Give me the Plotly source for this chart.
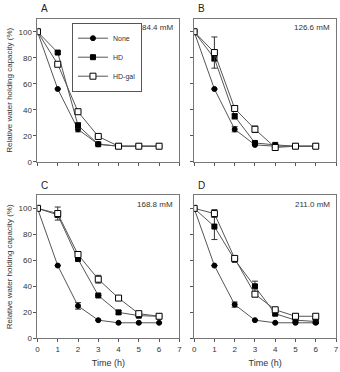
import plotly.graph_objects as go

times = [0, 1, 2, 3, 4, 5, 6]
series_names = ["None", "HD", "HD-gal"]
panel_letters = ["A", "B", "C", "D"]
concentrations = ["84.4 mM", "126.6 mM", "168.8 mM", "211.0 mM"]

none_A = [100, 56, 25, 13.5, 12, 12, 12]
none_A_err = [0, 0, 2, 0, 0, 0, 0]
hd_A = [100, 84, 28, 13.5, 12, 12, 12]
hd_A_err = [0, 1, 2, 0, 0, 0, 0]
gal_A = [100, 75, 38.5, 19.5, 12, 12, 12]
gal_A_err = [0, 1, 1, 0, 0, 0, 0]

none_B = [100, 56, 25, 13, 12, 12, 12]
none_B_err = [0, 0, 2, 0, 0, 0, 0]
hd_B = [100, 79.5, 35, 14.5, 13, 12, 12]
hd_B_err = [0, 2, 2, 1, 0, 0, 0]
gal_B = [100, 84, 41, 25, 11, 12, 12]
gal_B_err = [0, 12, 2, 2.5, 1, 0, 0]

none_C = [100, 56, 25, 14, 12, 12, 12]
none_C_err = [0, 0, 2.5, 0, 0, 0, 0]
hd_C = [100, 95, 61, 33, 20, 17.5, 17]
hd_C_err = [0, 2, 1, 0, 1.5, 0, 0]
gal_C = [100, 96, 64.5, 45.5, 31, 19, 17]
gal_C_err = [0, 5, 1.5, 3, 0, 0, 0]

none_D = [100, 56, 26, 14, 12, 12, 12]
none_D_err = [0, 0, 2, 0, 0, 0, 0]
hd_D = [100, 86, 60.5, 40, 19, 14, 13]
hd_D_err = [0, 10, 1, 4, 1, 2, 1.5]
gal_D = [100, 96, 61.5, 34, 22, 17, 17]
gal_D_err = [0, 3, 1, 2, 0, 2, 1.5]

y_ticks = [0, 20, 40, 60, 80, 100]
x_ticks = [0, 1, 2, 3, 4, 5, 6, 7]

panels = [
    [(none_A, none_A_err), (hd_A, hd_A_err), (gal_A, gal_A_err)],
    [(none_B, none_B_err), (hd_B, hd_B_err), (gal_B, gal_B_err)],
    [(none_C, none_C_err), (hd_C, hd_C_err), (gal_C, gal_C_err)],
    [(none_D, none_D_err), (hd_D, hd_D_err), (gal_D, gal_D_err)],
]

W, H = 340, 372
FONT = "Liberation Sans"

# pixel boxes (left, right, top, bottom)
boxes = [(36, 180, 19, 164), (195, 339, 19, 164), (36, 180, 198, 343), (195, 339, 198, 343)]

markers = [
    dict(symbol="circle", size=5, color="black", line=dict(color="black", width=1)),
    dict(symbol="square", size=5, color="black", line=dict(color="black", width=1)),
    dict(symbol="square", size=6, color="white", line=dict(color="black", width=1)),
]

fig = go.Figure()
for p, data in enumerate(panels):
    ax = "" if p == 0 else str(p + 1)
    for s, (vals, err) in enumerate(data):
        fig.add_trace(go.Scatter(
            x=times, y=vals, mode="lines+markers", name=series_names[s],
            xaxis="x" + ax, yaxis="y" + ax, showlegend=(p == 0),
            line=dict(color="#555555", width=1), marker=markers[s],
            error_y=dict(type="data", array=err, visible=True, color="#333333", thickness=1, width=3),
        ))

layout = dict(width=W, height=H, margin=dict(l=0, r=0, t=0, b=0),
              paper_bgcolor="white", plot_bgcolor="white",
              font=dict(family=FONT, size=8, color="#333333"))
annotations = []
for p, (l, r, t, b) in enumerate(boxes):
    ax = "" if p == 0 else str(p + 1)
    xd = [l / W, r / W]
    yd = [1 - b / H, 1 - t / H]
    left = p % 2 == 0
    bottom = p >= 2
    layout["xaxis" + ax] = dict(
        domain=xd, range=[0, 7], anchor="y" + ax, tickvals=x_ticks,
        showticklabels=bottom, ticks="outside", ticklen=3, tickcolor="#555555",
        showline=True, mirror=True, linecolor="#777777", linewidth=1, showgrid=False, zeroline=False,
        tickfont=dict(size=8, family=FONT),
        title=dict(text="Time (h)" if bottom else "", font=dict(size=9, family=FONT), standoff=6),
    )
    layout["yaxis" + ax] = dict(
        domain=yd, range=[0, 110], anchor="x" + ax, tickvals=y_ticks,
        showticklabels=left, ticks="outside", ticklen=3, tickcolor="#555555",
        showline=True, mirror=True, linecolor="#777777", linewidth=1, showgrid=False, zeroline=False,
        tickfont=dict(size=8, family=FONT),
        title=dict(text="Relative water holding capacity (%)" if left else "",
                   font=dict(size=8, family=FONT), standoff=4),
    )
    annotations.append(dict(text=panel_letters[p], x=(l + 2) / W, y=1 - (t - 10) / H,
                            xref="paper", yref="paper", xanchor="left", yanchor="middle",
                            showarrow=False, font=dict(size=10, family=FONT, color="#222222")))
    annotations.append(dict(text=concentrations[p], x=(r - 4) / W, y=1 - (t + 9) / H,
                            xref="paper", yref="paper", xanchor="right", yanchor="middle",
                            showarrow=False, font=dict(size=8, family=FONT, color="#333333")))
layout["annotations"] = annotations
layout["legend"] = dict(x=71 / W, y=1 - 23 / H, xanchor="left", yanchor="top",
                        bordercolor="#555555", borderwidth=1, bgcolor="white",
                        font=dict(size=7, family=FONT), itemwidth=30, tracegroupgap=0,
                        traceorder="normal")
fig.update_layout(**layout)
fig.write_html("out.html")
